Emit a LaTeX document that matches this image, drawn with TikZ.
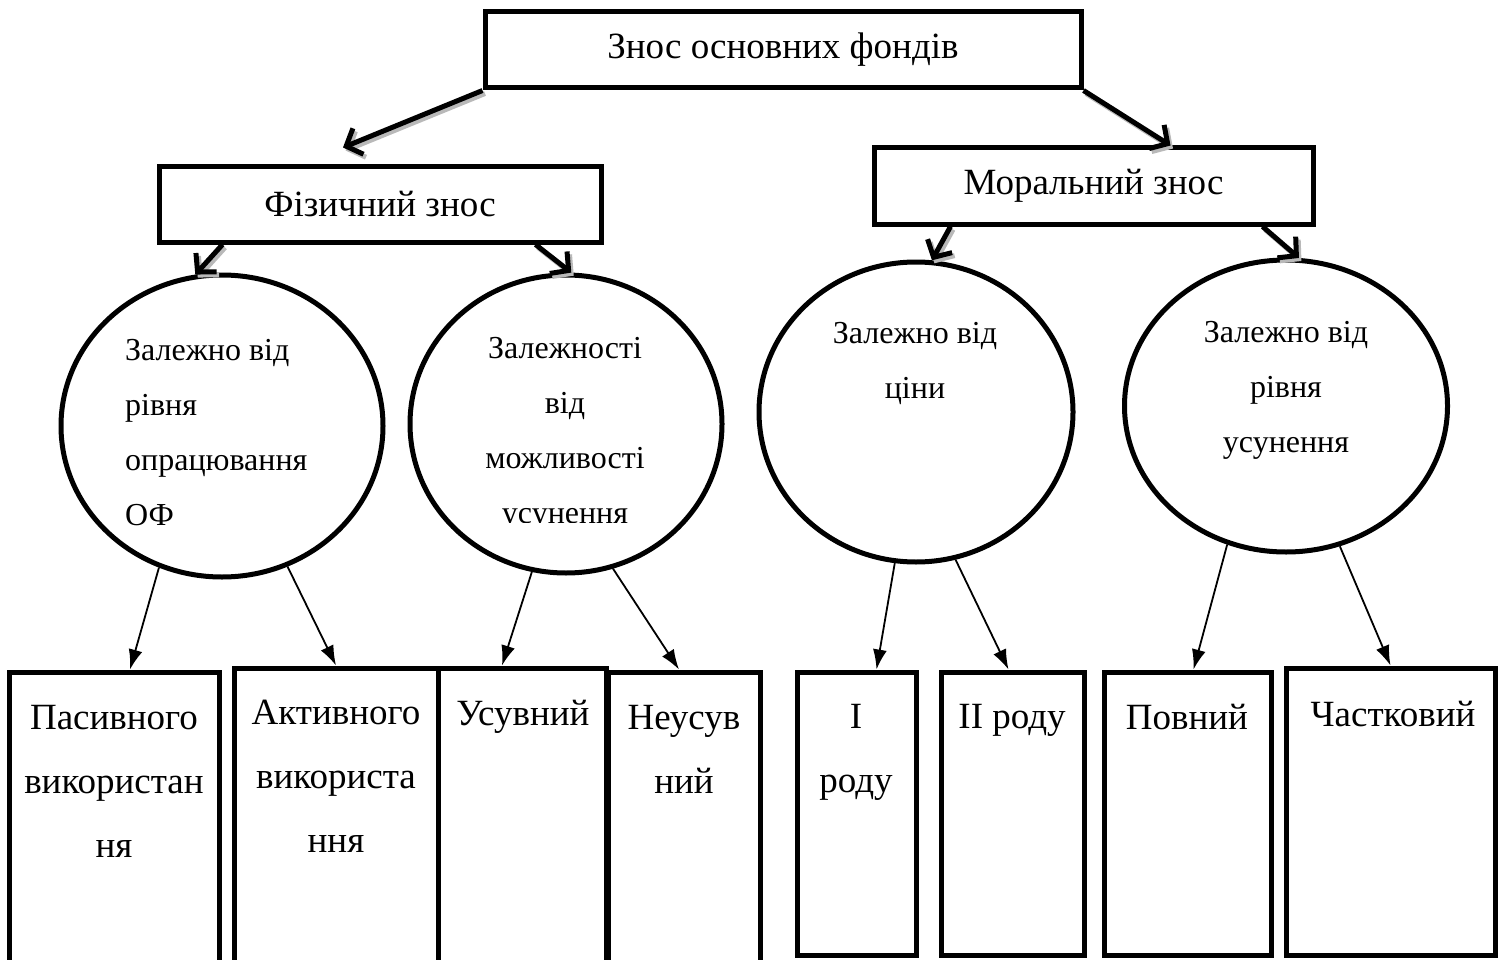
\documentclass[tikz,border=0pt]{standalone}
\usepackage{fontspec}
\setmainfont{Liberation Serif}
\usetikzlibrary{shapes.geometric,arrows.meta}

% thick arrow with a grey drop shadow
\newcommand\bigarr[2]{%
    \draw[bigarrow, draw=gray!55, transform canvas={shift={(2.5pt,-3pt)}}] #1 -- #2;
    \draw[bigarrow] #1 -- #2;}

\begin{document}
\begin{tikzpicture}[x=1pt, y=-1pt,
        box/.style={draw, rectangle, line width=5pt, inner sep=0pt},
        oval/.style={draw, ellipse, line width=5pt, inner sep=0pt},
        bigarrow/.style={line width=5pt, -{Straight Barb[length=13pt,width=28pt]}},
        thinarrow/.style={line width=1.8pt, -{Latex[length=20pt,width=14pt]}},
        lbl/.style={inner sep=0pt, align=center, font=\fontsize{37}{64}\selectfont},
        olbl/.style={inner sep=0pt, font=\fontsize{32}{55}\selectfont}]
        \useasboundingbox (0,0) rectangle (1498,960);
        \clip (0,0) rectangle (1498,960);

        % Top level
        \node[box, lbl, minimum width=596pt, minimum height=76pt] (top) at (783,50) {Знос основних фондів};
        \node[box, lbl, minimum width=442pt, minimum height=75pt] (fiz) at (380,204.5) {Фізичний знос};
        \node[box, lbl, minimum width=439pt, minimum height=76pt] (mor) at (1093.5,186) {Моральний знос};

        \bigarr{(top.south west)}{([shift={(-37pt,17pt)}]fiz.north)}
        \bigarr{(top.south east)}{([xshift=77pt]mor.north)}

        % Criteria
        \node[oval, minimum width=322pt, minimum height=302pt] (e1) at (222,426) {};
        \node[oval, minimum width=312pt, minimum height=298pt] (e2) at (566,424) {};
        \node[oval, minimum width=314pt, minimum height=300pt] (e3) at (916,412) {};
        \node[oval, minimum width=323pt, minimum height=292pt] (e4) at (1286,406) {};

        \begin{scope}
            \clip (40,300) rectangle (400,525);
            \node[olbl, align=left, anchor=north west] (e1t) at (125,338.6) {Залежно від\\рівня\\опрацювання\\ОФ};
        \end{scope}
        \begin{scope}
            \clip (400,300) rectangle (740,522);
            \node[olbl, align=center, anchor=north] (e2t) at (565,336.6) {Залежності\\від\\можливості\\усунення};
        \end{scope}
        \node[olbl, align=center, anchor=north] (e3t) at (915,321.6) {Залежно від\\ціни};
        \node[olbl, align=center, anchor=north] (e4t) at (1286,320.6) {Залежно від\\рівня\\усунення};

        \bigarr{([xshift=66pt]fiz.south west)}{(e1.100)}
        \bigarr{([xshift=-68pt]fiz.south east)}{(e2.88)}
        \bigarr{([xshift=79pt]mor.south west)}{(e3.84)}
        \bigarr{([xshift=-53pt]mor.south east)}{(e4.85)}

        % Kinds
        \node[box, minimum width=210pt, minimum height=308pt] (b1) at (114,826) {};
        \node[box, minimum width=204pt, minimum height=312pt] (b2) at (336,824) {};
        \node[box, minimum width=168pt, minimum height=312pt] (b3) at (522,824) {};
        \node[box, minimum width=152pt, minimum height=308pt] (b4) at (684,826) {};
        \node[box, minimum width=119pt, minimum height=283pt] (b5) at (856.5,813.5) {};
        \node[box, minimum width=143pt, minimum height=283pt] (b6) at (1012.5,813.5) {};
        \node[box, minimum width=167pt, minimum height=283pt] (b7) at (1187.5,813.5) {};
        \node[box, minimum width=209pt, minimum height=287pt] (b8) at (1390.5,811.5) {};

        \node[lbl, anchor=north] (b1t) at (114,705) {Пасивного\\використан\\ня};
        \node[lbl, anchor=north] (b2t) at (336,700) {Активного\\використа\\ння};
        \node[lbl, anchor=north] (b3t) at (523,700) {Усувний};
        \node[lbl, anchor=north] (b4t) at (684,705) {Неусув\\ний};
        \node[lbl, anchor=north] (b5t) at (856,704) {I\\роду};
        \node[lbl, anchor=north] (b6t) at (1012,704) {II роду};
        \node[lbl, anchor=north] (b7t) at (1187,704) {Повний};
        \node[lbl, anchor=north] (b8t) at (1393,701) {Частковий};

        \draw[thinarrow] (e1.246) -- ([xshift=16pt]b1.north);
        \draw[thinarrow] (e1.295) -- (b2.north);
        \draw[thinarrow] (e2.257) -- ([xshift=-20pt]b3.north);
        \draw[thinarrow] (e2.288) -- ([xshift=-5pt]b4.north);
        \draw[thinarrow] (e3.262) -- ([xshift=20pt]b5.north);
        \draw[thinarrow] (e3.285) -- ([xshift=-4pt]b6.north);
        \draw[thinarrow] (e4.247) -- ([xshift=6pt]b7.north);
        \draw[thinarrow] (e4.291) -- (b8.north);
    \end{tikzpicture}
\end{document}
